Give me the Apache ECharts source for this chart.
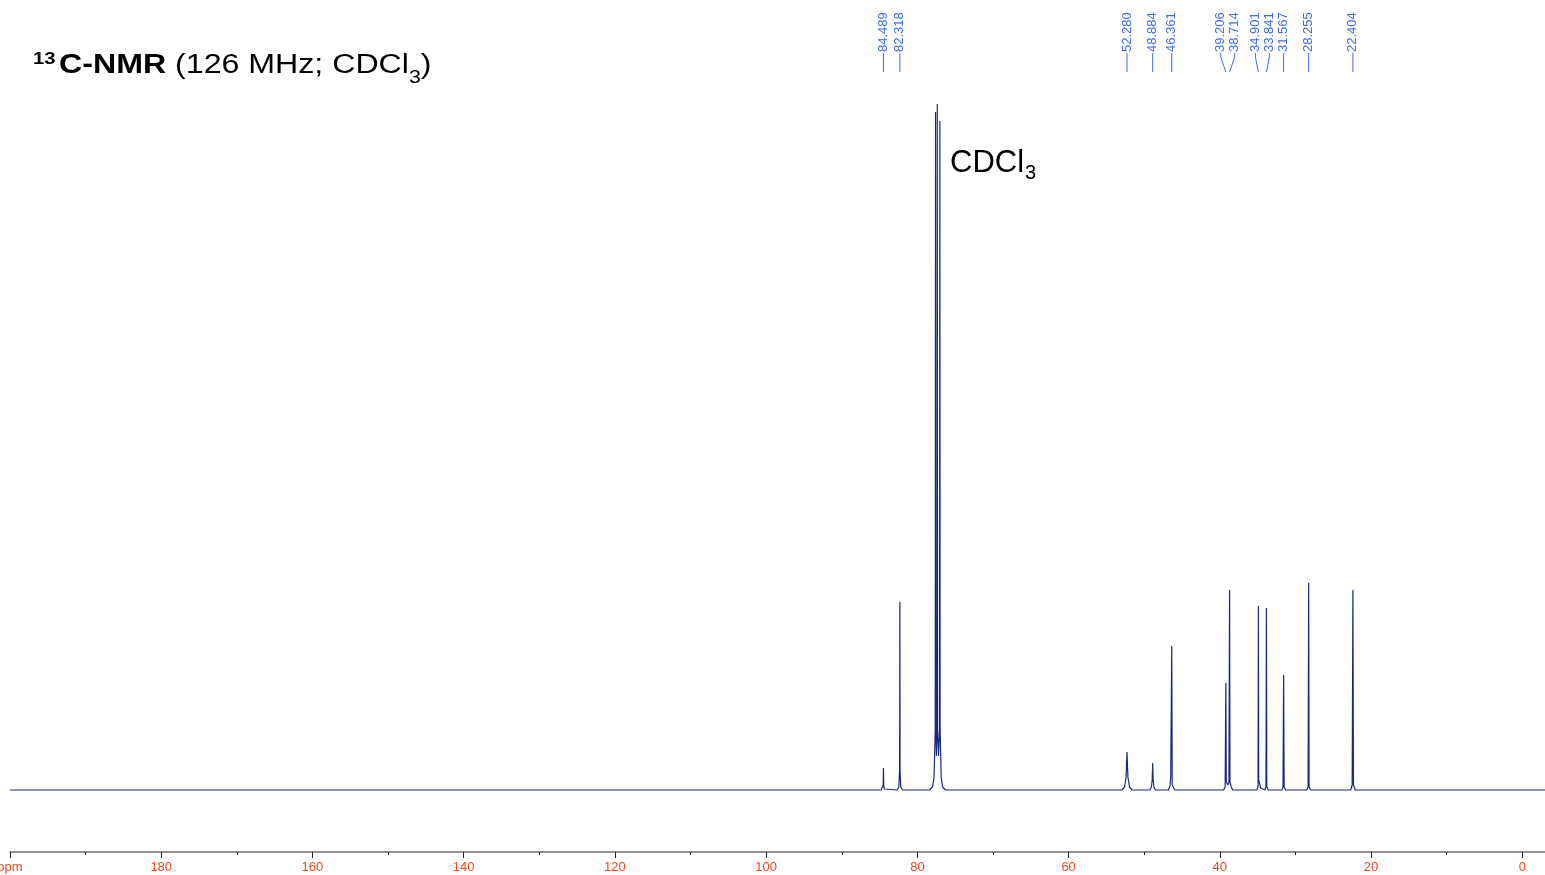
<!DOCTYPE html>
<html>
<head>
<meta charset="utf-8">
<script src="https://cdn.jsdelivr.net/npm/echarts@6/dist/echarts.min.js"></script>
<style>
  html, body { margin: 0; padding: 0; background: #fff; }
  #chart { width: 1545px; height: 875px; }
</style>
</head>
<body>
<div id="chart"></div>
<script>
// ---- data ----
// chemical shifts (ppm) that carry peak labels
const peakShifts = [84.489, 82.318, 52.280, 48.884, 46.361, 39.206, 38.714, 34.901, 33.841, 31.567, 28.255, 22.404];

// spectrum trace: [ppm, intensity] points (intensity in arbitrary units, baseline = 0)
const spectrum = [
  [200, 0], [150, 0], [100, 0],
  [84.8, 0], [84.6, 1], [84.52, 5], [84.489, 22], [84.45, 5], [84.38, 1], [84.2, 0],
  [82.7, 0], [82.45, 3], [82.35, 20], [82.318, 188], [82.29, 20], [82.2, 3], [81.95, 0],
  [78.4, 0], [78.0, 3], [77.8, 12], [77.64, 60], [77.6, 678], [77.56, 60], [77.48, 34],
  [77.41, 60], [77.37, 686], [77.33, 60], [77.2, 34], [77.07, 60], [77.03, 669], [76.99, 60],
  [76.85, 12], [76.65, 3], [76.3, 0],
  [60, 0],
  [52.95, 0], [52.6, 3], [52.4, 13], [52.28, 38], [52.16, 13], [51.95, 3], [51.6, 0],
  [49.25, 0], [49.05, 3], [48.95, 10], [48.884, 27], [48.82, 10], [48.72, 3], [48.5, 0],
  [46.8, 0], [46.6, 4], [46.5, 12], [46.42, 10], [46.361, 144], [46.3, 5], [45.95, 0],
  [45.5, 0], [44.5, 0], [43.0, 0], [41.5, 0],
  [39.5, 0], [39.3, 3], [39.206, 107], [39.15, 8], [38.95, 5], [38.8, 8], [38.714, 200],
  [38.66, 8], [38.5, 3], [38.3, 0],
  [35.1, 0], [34.95, 3], [34.901, 184], [34.86, 10], [34.75, 11], [34.6, 2], [34.4, 0],
  [34.05, 0], [33.9, 3], [33.841, 182], [33.79, 3], [33.6, 0],
  [31.8, 0], [31.65, 3], [31.567, 115], [31.5, 3], [31.3, 0],
  [28.5, 0], [28.33, 3], [28.255, 207], [28.2, 3], [28.0, 0],
  [22.7, 0], [22.5, 5], [22.404, 200], [22.33, 5], [22.1, 0],
  [10, 0], [-3, 0]
];

// axis ticks
const majorTicks = [200, 180, 160, 140, 120, 100, 80, 60, 40, 20, 0];
const minorTicks = [190, 170, 150, 130, 110, 90, 70, 50, 30, 10];
const axisUnitLabel = 'ppm';

// ---- chart ----
const chart = echarts.init(document.getElementById('chart'), null, { renderer: 'canvas' });
const FONT = '"Liberation Sans", Arial, Helvetica, sans-serif';
const BLUE = '#3c6ee6';
const MIN_GAP = 14;

function spreadLabels(xs) {
  // groups of labels that would overlap are spread around their mean
  let groups = xs.map(x => ({ xs: [x], pos: [x] }));
  let changed = true;
  while (changed) {
    changed = false;
    for (let i = 0; i < groups.length - 1; i++) {
      const a = groups[i], b = groups[i + 1];
      if (b.pos[0] - a.pos[a.pos.length - 1] < MIN_GAP) {
        const all = a.xs.concat(b.xs);
        const mean = all.reduce((s, v) => s + v, 0) / all.length;
        const start = mean - (all.length - 1) * MIN_GAP / 2;
        groups.splice(i, 2, { xs: all, pos: all.map((_, k) => start + k * MIN_GAP) });
        changed = true;
        break;
      }
    }
  }
  return groups.reduce((acc, g) => acc.concat(g.pos), []);
}

const option = {
  animation: false,
  backgroundColor: '#ffffff',
  grid: { left: 10, right: 0, top: 104, bottom: 23, containLabel: false, outerBoundsMode: 'none' },
  xAxis: [
    {
      type: 'value', min: -3, max: 200, inverse: true, position: 'bottom',
      axisLine: { show: true, onZero: false, lineStyle: { color: '#6e6e6e', width: 1.5 } },
      axisTick: { show: true, inside: false, length: 6, customValues: majorTicks, lineStyle: { color: '#222', width: 1 } },
      axisLabel: {
        show: true, customValues: majorTicks, margin: 9, hideOverlap: false,
        color: '#f04a1c', fontSize: 13, fontFamily: FONT,
        formatter: v => (v === 200 ? axisUnitLabel : String(v))
      },
      splitLine: { show: false }
    },
    {
      type: 'value', min: -3, max: 200, inverse: true, position: 'bottom',
      axisLine: { show: false, onZero: false },
      axisTick: { show: true, inside: false, length: 3, customValues: minorTicks, lineStyle: { color: '#222', width: 1 } },
      axisLabel: { show: false },
      splitLine: { show: false }
    }
  ],
  yAxis: { type: 'value', min: -62, max: 686, show: false, splitLine: { show: false } },
  series: [
    {
      type: 'line',
      xAxisIndex: 0,
      data: spectrum,
      showSymbol: false,
      symbol: 'none',
      smooth: false,
      sampling: null,
      lineStyle: { color: '#1a2a7a', width: 1.2 },
      clip: false,
      z: 3
    },
    {
      type: 'custom',
      xAxisIndex: 0,
      coordinateSystem: 'cartesian2d',
      clip: false,
      data: peakShifts.map(s => [s, 0]),
      renderItem: function (params, api) {
        const ctx = params.context;
        if (!ctx.labelPos) {
          const px = peakShifts.map(s => api.coord([s, 0])[0]);
          const order = px.map((x, i) => i).sort((a, b) => px[a] - px[b]);
          const spread = spreadLabels(order.map(i => px[i]));
          ctx.labelPos = [];
          order.forEach((idx, k) => { ctx.labelPos[idx] = spread[k]; });
          ctx.px = px;
        }
        const i = params.dataIndex;
        const peakX = ctx.px[i];
        const lx = ctx.labelPos[i];
        const txt = peakShifts[i].toFixed(3);
        return {
          type: 'group',
          children: [
            {
              type: 'polyline',
              shape: { points: [[lx, 53], [lx, 57], [peakX, 72]] },
              style: { stroke: BLUE, lineWidth: 1, fill: null }
            },
            {
              type: 'text',
              x: lx, y: 52, rotation: Math.PI / 2,
              style: { text: txt, x: 0, y: 0, align: 'left', verticalAlign: 'middle', fill: BLUE, font: '13px ' + FONT }
            }
          ]
        };
      }
    }
  ],
  graphic: [
    {
      type: 'text', x: 33, y: 66, scaleX: 1.19, originX: 0,
      style: {
        text: '{sup|13}{b|C-NMR}{n| (126 MHz; CDCl}{sub|3}{n|)}',
        align: 'left', verticalAlign: 'middle', fill: '#000',
        rich: {
          sup: { fontSize: 17, fontWeight: 'bold', fontFamily: FONT, verticalAlign: 'middle', padding: [0, 3, 13, 0], fill: '#000' },
          b: { fontSize: 27, fontWeight: 'bold', fontFamily: FONT, verticalAlign: 'middle', fill: '#000' },
          n: { fontSize: 27, fontWeight: 'normal', fontFamily: FONT, verticalAlign: 'middle', fill: '#000' },
          sub: { fontSize: 18, fontWeight: 'normal', fontFamily: FONT, verticalAlign: 'middle', padding: [24, 0, 0, 0], fill: '#000' }
        }
      }
    },
    {
      type: 'text', x: 950, y: 163,
      style: {
        text: '{n|CDCl}{sub|3}',
        align: 'left', verticalAlign: 'middle', fill: '#000',
        rich: {
          n: { fontSize: 31, fontFamily: FONT, verticalAlign: 'middle', fill: '#000' },
          sub: { fontSize: 20, fontFamily: FONT, verticalAlign: 'middle', padding: [21, 0, 0, 1], fill: '#000' }
        }
      }
    }
  ]
};
chart.setOption(option);
</script>
</body>
</html>
